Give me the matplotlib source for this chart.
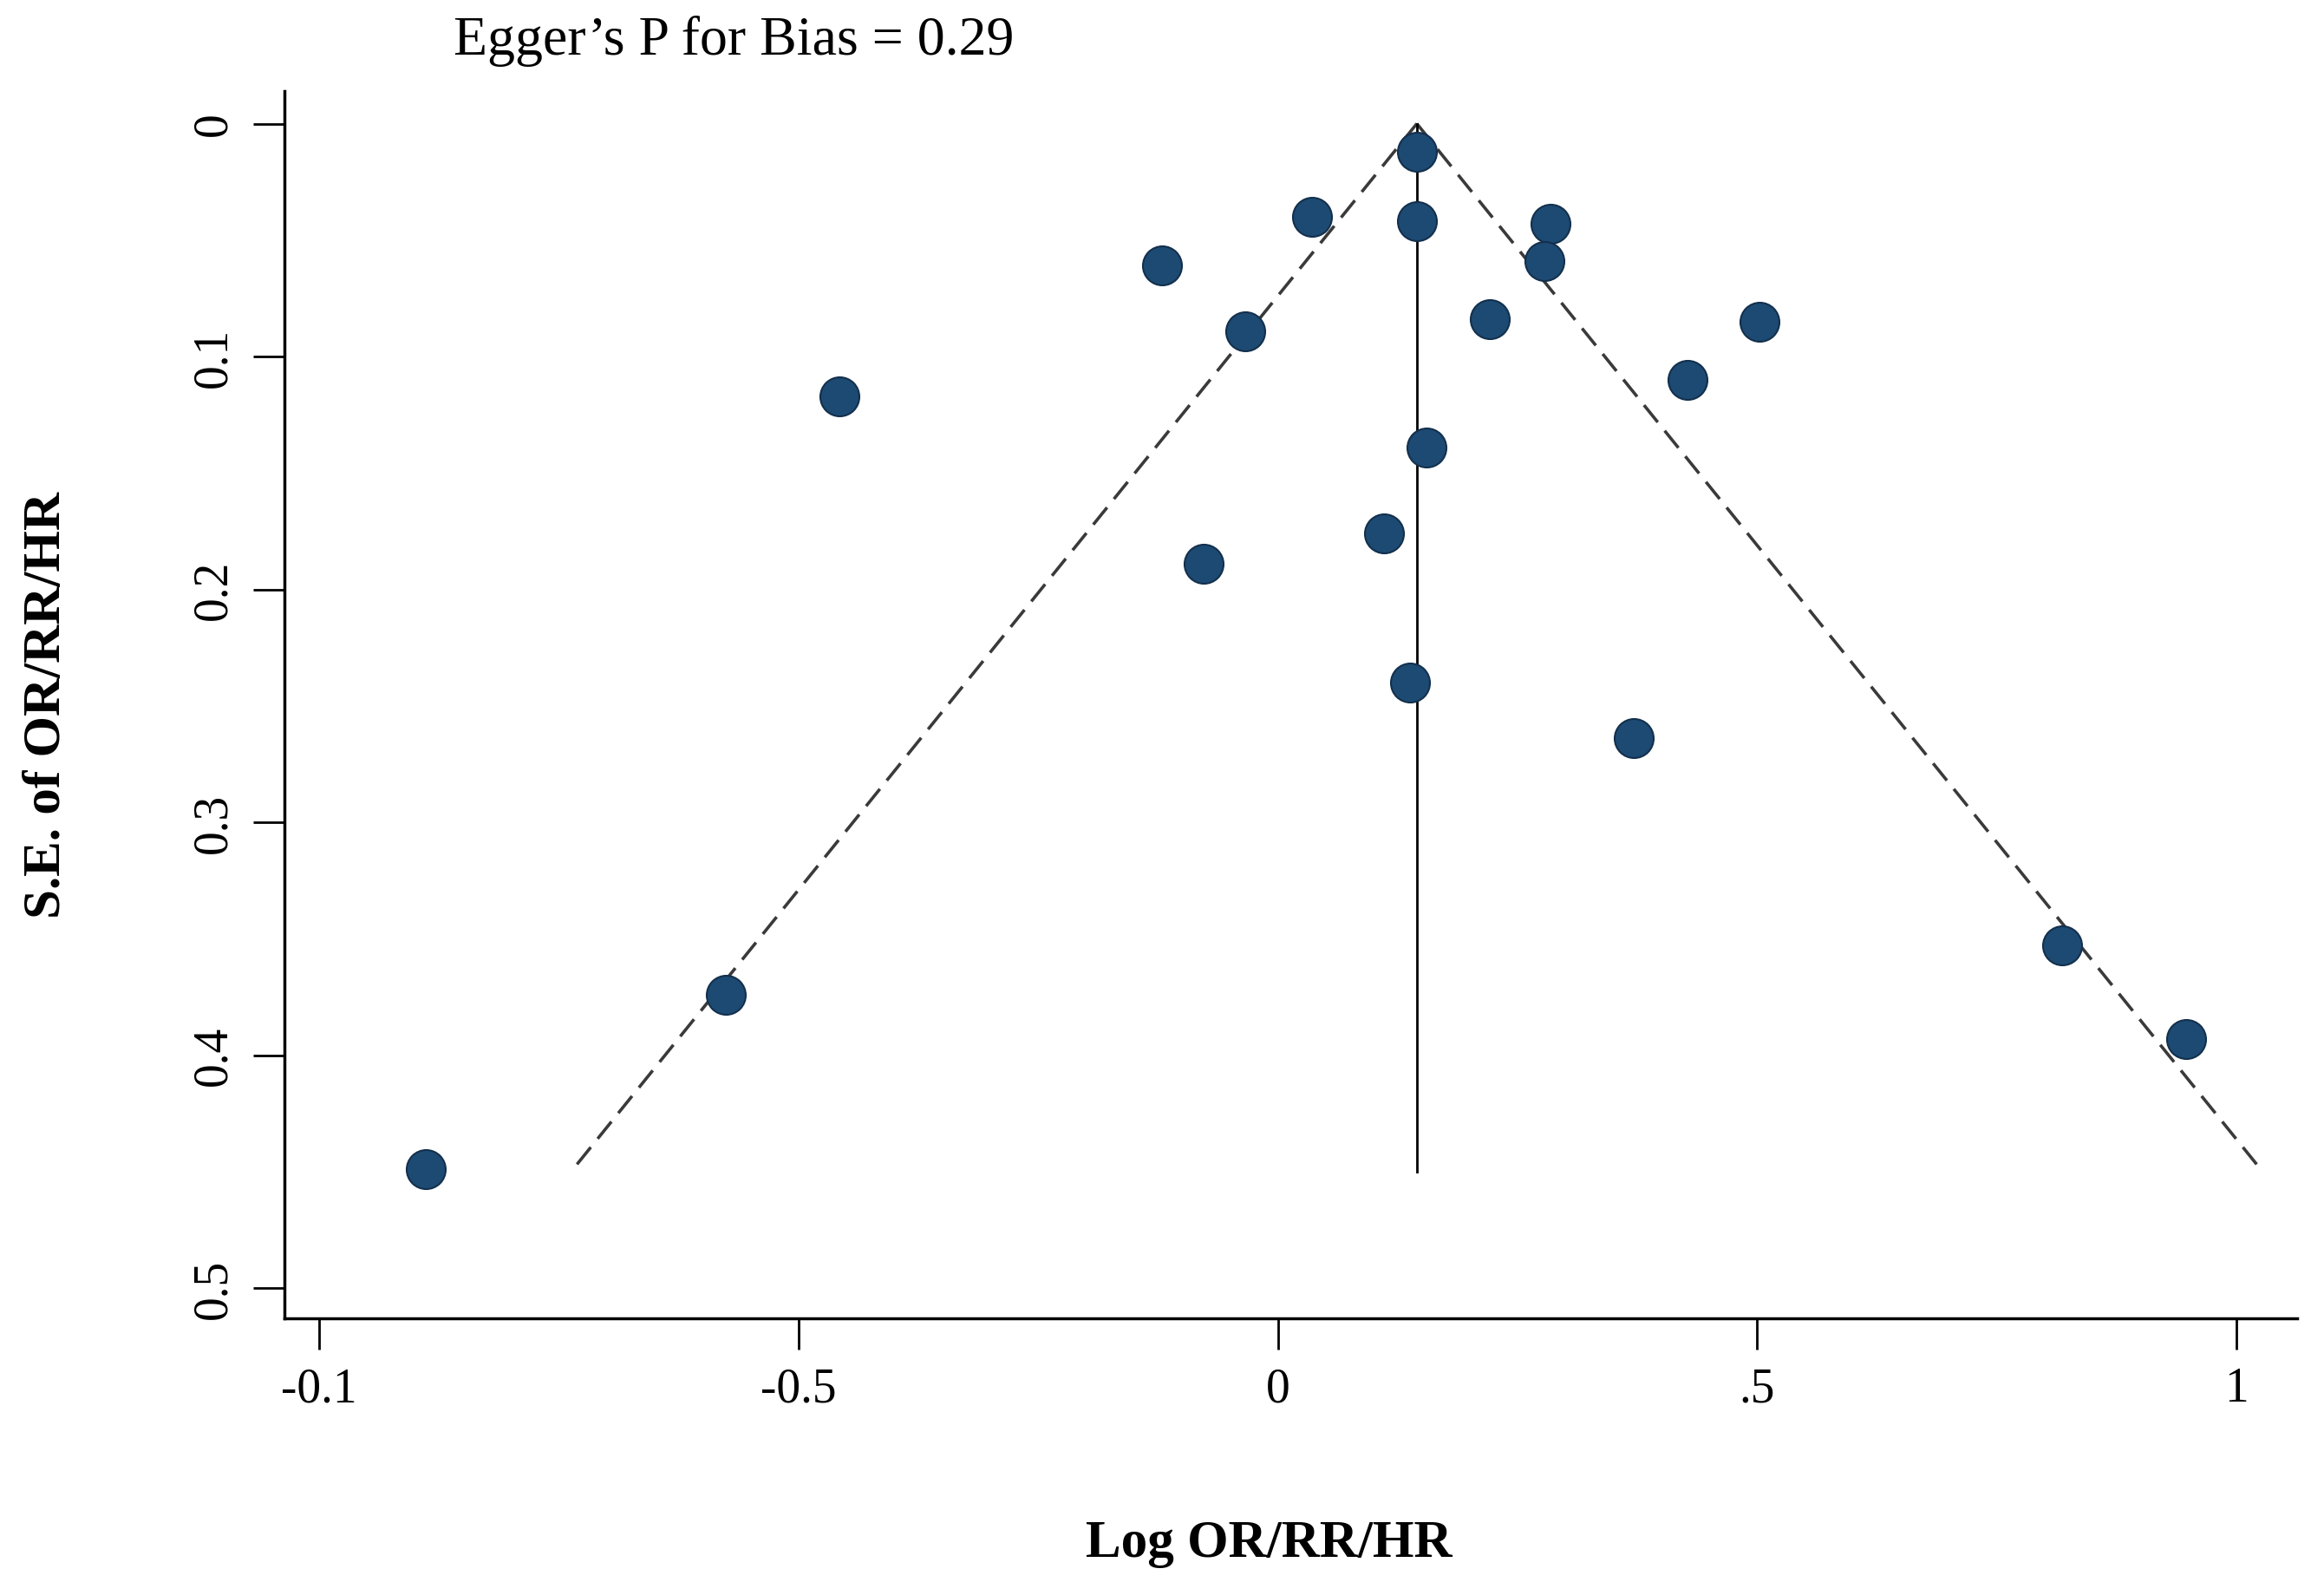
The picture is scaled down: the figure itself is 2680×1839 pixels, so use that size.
#!/usr/bin/env python3
# -*- coding: utf-8 -*-
"""
Funnel plot: Log OR/RR/HR against its standard error
"""

import numpy as np
import matplotlib
matplotlib.use('Agg')
import matplotlib.pyplot as plt

plt.rcParams['font.family'] = ['Liberation Serif', 'DejaVu Serif']

# Study estimates
log_effect = [0.145, 0.036, 0.145, 0.284, -0.121, 0.278, 0.221, 0.502, -0.034, 0.427,
              -0.457, 0.155, 0.111, -0.077, 0.138, 0.371, 0.818, -0.576, 0.947, -0.889]
std_err = [0.012, 0.040, 0.042, 0.043, 0.061, 0.059, 0.084, 0.085, 0.089, 0.110,
           0.117, 0.139, 0.176, 0.189, 0.240, 0.264, 0.353, 0.374, 0.393, 0.449]

pooled = 0.145        # pooled log estimate (vertical line)
se_max = 0.45         # funnel drawn down to this S.E.
egger_p = 0.29

x_ticks = [-1, -0.5, 0, 0.5, 1]
x_tick_labels = ['-0.1', '-0.5', '0', '.5', '1']
y_ticks = [0, 0.1, 0.2, 0.3, 0.4, 0.5]
y_tick_labels = ['0', '0.1', '0.2', '0.3', '0.4', '0.5']

fig = plt.figure(figsize=(26.8, 18.4), dpi=100)
ax = fig.add_axes([0.1224, 0.1734, 0.866, 0.769])

# pseudo 95% confidence limits
se_line = np.array([0, se_max])
ax.plot(pooled - 1.96 * se_line, se_line, color='#3a3a3a', linestyle=(0, (7, 3.5)),
        linewidth=2.6, zorder=2)
ax.plot(pooled + 1.96 * se_line, se_line, color='#3a3a3a', linestyle=(0, (7, 3.5)),
        linewidth=2.6, zorder=2)
ax.plot([pooled, pooled], se_line, color='black', linewidth=2.0, zorder=2)

ax.scatter(log_effect, std_err, s=1050, color='#1d4a72', edgecolor='#13304d',
           linewidth=1.5, zorder=3)

ax.set_xlim(-1.036, 1.063)
ax.set_ylim(0.513, -0.014)

ax.spines['top'].set_visible(False)
ax.spines['right'].set_visible(False)
ax.spines['left'].set_linewidth(2.5)
ax.spines['bottom'].set_linewidth(2.5)

ax.set_xticks(x_ticks)
ax.set_xticklabels(x_tick_labels)
ax.set_yticks(y_ticks)
ax.set_yticklabels(y_tick_labels, rotation=90, va='center')
ax.tick_params(axis='both', labelsize=40, length=26, width=2, pad=14)

ax.set_xlabel('Log OR/RR/HR', fontsize=44, fontweight='bold')
ax.xaxis.set_label_coords(0.489, -0.163)
ax.set_ylabel('S.E. of OR/RR/HR', fontsize=44, fontweight='bold', labelpad=100)

fig.text(0.195, 0.974, "Egger\u2019s P for Bias = %.2f" % egger_p, fontsize=46,
         ha='left', va='center')

plt.savefig('out.png', dpi=100)
